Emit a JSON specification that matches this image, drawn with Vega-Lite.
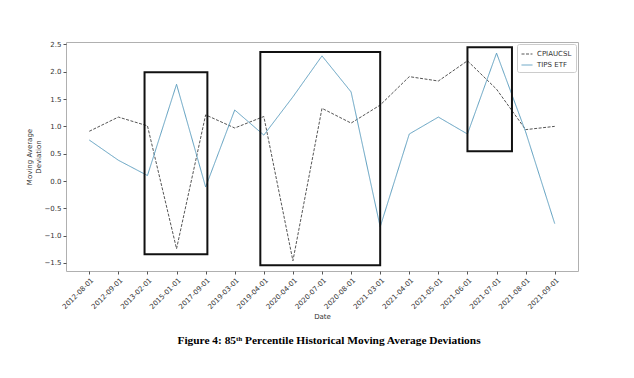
{
  "$schema": "https://vega.github.io/schema/vega-lite/v6.json",
  "autosize": "none",
  "width": 512,
  "height": 229,
  "padding": {"left": 66, "top": 42, "right": 56, "bottom": 107},
  "background": "white",
  "config": {
    "view": {"stroke": "#b0b0b0", "strokeWidth": 1},
    "font": "DejaVu Sans",
    "axis": {
      "labelFont": "DejaVu Sans",
      "titleFont": "DejaVu Sans",
      "labelFontSize": 7,
      "titleFontSize": 7,
      "titleFontWeight": "normal",
      "labelColor": "#333333",
      "titleColor": "#333333",
      "tickColor": "#555555",
      "tickSize": 3,
      "domain": false,
      "grid": false,
      "labelOverlap": false
    },
    "axisX": {
      "title": "Date",
      "titlePadding": 3,
      "values": [0, 1, 2, 3, 4, 5, 6, 7, 8, 9, 10, 11, 12, 13, 14, 15, 16],
      "labelExpr": "['2012-08-01','2012-09-01','2013-02-01','2015-01-01','2017-09-01','2019-03-01','2019-04-01','2020-04-01','2020-07-01','2020-08-01','2021-03-01','2021-04-01','2021-05-01','2021-06-01','2021-07-01','2021-08-01','2021-09-01'][datum.value]",
      "labelAngle": -45,
      "labelAlign": "right",
      "labelBaseline": "top",
      "labelPadding": 2
    },
    "axisY": {
      "titlePadding": 3,
      "values": [-1.5, -1.0, -0.5, 0.0, 0.5, 1.0, 1.5, 2.0, 2.5],
      "format": ".1f",
      "labelExpr": "replace(datum.label, '-', '−')",
      "labelPadding": 2
    }
  },
  "title": {
    "text": "Figure 4: 85ᵗʰ Percentile Historical Moving Average Deviations",
    "orient": "bottom",
    "anchor": "middle",
    "font": "Liberation Serif",
    "fontSize": 11.4,
    "fontWeight": "bold",
    "color": "#000000",
    "offset": 15,
    "dx": 7
  },
  "datasets": {
    "series": [
      {"i": 0, "date": "2012-08-01", "series": "CPIAUCSL", "value": 0.91},
      {"i": 1, "date": "2012-09-01", "series": "CPIAUCSL", "value": 1.17},
      {"i": 2, "date": "2013-02-01", "series": "CPIAUCSL", "value": 1.01},
      {"i": 3, "date": "2015-01-01", "series": "CPIAUCSL", "value": -1.24},
      {"i": 4, "date": "2017-09-01", "series": "CPIAUCSL", "value": 1.21},
      {"i": 5, "date": "2019-03-01", "series": "CPIAUCSL", "value": 0.97},
      {"i": 6, "date": "2019-04-01", "series": "CPIAUCSL", "value": 1.18},
      {"i": 7, "date": "2020-04-01", "series": "CPIAUCSL", "value": -1.46},
      {"i": 8, "date": "2020-07-01", "series": "CPIAUCSL", "value": 1.33},
      {"i": 9, "date": "2020-08-01", "series": "CPIAUCSL", "value": 1.06},
      {"i": 10, "date": "2021-03-01", "series": "CPIAUCSL", "value": 1.39},
      {"i": 11, "date": "2021-04-01", "series": "CPIAUCSL", "value": 1.91},
      {"i": 12, "date": "2021-05-01", "series": "CPIAUCSL", "value": 1.83},
      {"i": 13, "date": "2021-06-01", "series": "CPIAUCSL", "value": 2.2},
      {"i": 14, "date": "2021-07-01", "series": "CPIAUCSL", "value": 1.68},
      {"i": 15, "date": "2021-08-01", "series": "CPIAUCSL", "value": 0.94},
      {"i": 16, "date": "2021-09-01", "series": "CPIAUCSL", "value": 1.0},
      {"i": 0, "date": "2012-08-01", "series": "TIPS ETF", "value": 0.75},
      {"i": 1, "date": "2012-09-01", "series": "TIPS ETF", "value": 0.38},
      {"i": 2, "date": "2013-02-01", "series": "TIPS ETF", "value": 0.1},
      {"i": 3, "date": "2015-01-01", "series": "TIPS ETF", "value": 1.77},
      {"i": 4, "date": "2017-09-01", "series": "TIPS ETF", "value": -0.11},
      {"i": 5, "date": "2019-03-01", "series": "TIPS ETF", "value": 1.3},
      {"i": 6, "date": "2019-04-01", "series": "TIPS ETF", "value": 0.84},
      {"i": 7, "date": "2020-04-01", "series": "TIPS ETF", "value": 1.54},
      {"i": 8, "date": "2020-07-01", "series": "TIPS ETF", "value": 2.29},
      {"i": 9, "date": "2020-08-01", "series": "TIPS ETF", "value": 1.63},
      {"i": 10, "date": "2021-03-01", "series": "TIPS ETF", "value": -0.84},
      {"i": 11, "date": "2021-04-01", "series": "TIPS ETF", "value": 0.86},
      {"i": 12, "date": "2021-05-01", "series": "TIPS ETF", "value": 1.17},
      {"i": 13, "date": "2021-06-01", "series": "TIPS ETF", "value": 0.86},
      {"i": 14, "date": "2021-07-01", "series": "TIPS ETF", "value": 2.34},
      {"i": 15, "date": "2021-08-01", "series": "TIPS ETF", "value": 0.9},
      {"i": 16, "date": "2021-09-01", "series": "TIPS ETF", "value": -0.78}
    ],
    "boxes": [
      {"x1": 1.9, "x2": 4.06, "y1": -1.34, "y2": 1.99},
      {"x1": 5.88, "x2": 10.0, "y1": -1.54, "y2": 2.36},
      {"x1": 13.0, "x2": 14.53, "y1": 0.545, "y2": 2.45}
    ]
  },
  "layer": [
    {
      "data": {"name": "series"},
      "mark": {"type": "line", "strokeWidth": 1},
      "encoding": {
        "x": {
          "field": "i",
          "type": "quantitative",
          "title": "Date",
          "scale": {"domain": [-0.8, 16.8], "nice": false, "zero": false}
        },
        "y": {
          "field": "value",
          "type": "quantitative",
          "title": ["Moving Average", "Deviation"],
          "scale": {"domain": [-1.647, 2.544], "nice": false, "zero": false}
        },
        "color": {
          "field": "series",
          "type": "nominal",
          "scale": {"domain": ["CPIAUCSL", "TIPS ETF"], "range": ["#555555", "#5e9fc0"]},
          "legend": {
            "title": null,
            "orient": "top-right",
            "offset": 2,
            "strokeColor": "#cccccc",
            "fillColor": "white",
            "padding": 4,
            "cornerRadius": 2,
            "labelFont": "DejaVu Sans",
            "labelFontSize": 7,
            "labelColor": "#333333",
            "symbolType": "stroke",
            "symbolSize": 120,
            "symbolStrokeWidth": 1,
            "rowPadding": 2
          }
        },
        "strokeDash": {
          "field": "series",
          "type": "nominal",
          "scale": {"domain": ["CPIAUCSL", "TIPS ETF"], "range": [[3, 1.5], [1, 0]]},
          "legend": {
            "title": null,
            "orient": "top-right",
            "offset": 2,
            "strokeColor": "#cccccc",
            "fillColor": "white",
            "padding": 4,
            "cornerRadius": 2,
            "labelFont": "DejaVu Sans",
            "labelFontSize": 7,
            "labelColor": "#333333",
            "symbolType": "stroke",
            "symbolSize": 120,
            "symbolStrokeWidth": 1,
            "rowPadding": 2
          }
        }
      }
    },
    {
      "data": {"name": "boxes"},
      "mark": {"type": "rect", "fill": null, "filled": false, "stroke": "#111111", "strokeWidth": 2},
      "encoding": {
        "x": {"field": "x1", "type": "quantitative", "title": "Date"},
        "x2": {"field": "x2"},
        "y": {"field": "y1", "type": "quantitative", "title": ["Moving Average", "Deviation"]},
        "y2": {"field": "y2"}
      }
    }
  ]
}
